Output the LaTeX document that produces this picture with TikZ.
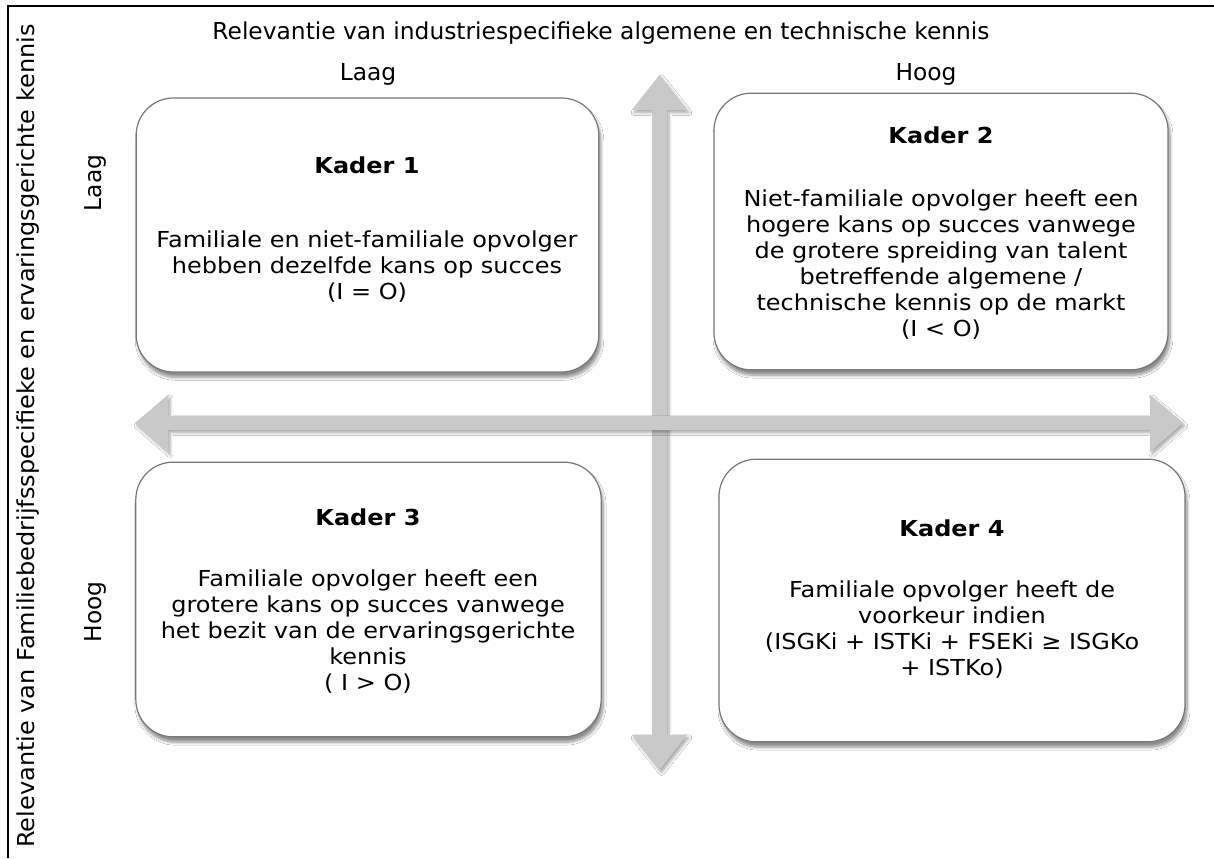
\documentclass[tikz,border=0pt]{standalone}
\usepackage{fontspec}
\setmainfont{DejaVu Sans}
\newfontfamily\boxfont[FakeStretch=1.09]{DejaVu Sans}
\newfontfamily\labfont{DejaVu Sans}
\newfontfamily\ylabfont[FakeStretch=1.03]{DejaVu Sans}
\usetikzlibrary{shadows.blur}
\definecolor{arrowgray}{RGB}{201,201,201}
\definecolor{boxline}{RGB}{120,120,120}
\tikzset{
  kader/.style={draw=boxline, line width=0.9pt, fill=white, rounded corners=28pt,
    blur shadow={shadow xshift=1.5pt, shadow yshift=-4pt, shadow blur steps=8, shadow opacity=45}},
  ktitle/.style={font=\boxfont\bfseries\fontsize{16.5}{19.5}\selectfont, inner sep=0pt},
  kbody/.style={font=\boxfont\fontsize{16.5}{19.5}\selectfont, align=center, inner sep=0pt},
  axlab/.style={font=\labfont\fontsize{17.5}{21}\selectfont, inner sep=0pt},
  yaxlab/.style={font=\ylabfont\fontsize{17.5}{21}\selectfont, inner sep=0pt},
  axarrow/.style={fill=arrowgray, draw=none,
    blur shadow={shadow xshift=1.5pt, shadow yshift=-2pt, shadow blur steps=6, shadow opacity=35}}
}
\begin{document}
\begin{tikzpicture}[x=0.75pt,y=-0.75pt]
\useasboundingbox[fill=white] (0,0) rectangle (1214,858);
% frame
\draw[line width=1.9pt] (7,6) -- (1214,6);
\draw[line width=1pt] (8,6) -- (8,858);
% axes arrows
\fill[axarrow] (659.5,75) -- (687,110) -- (667,110) -- (667,735) -- (687,735) -- (659.5,770)
  -- (632,735) -- (652,735) -- (652,110) -- (632,110) -- cycle;
\fill[axarrow] (135,423) -- (168,395) -- (168,416) -- (1150,416) -- (1150,395) -- (1183,423)
  -- (1150,452) -- (1150,430) -- (168,430) -- (168,452) -- cycle;
% boxes
\node[kader, minimum width=347pt, minimum height=205.5pt] (k1) at (367.5,235) {};
\node[kader, minimum width=340.5pt, minimum height=207.5pt] (k2) at (941,231.5) {};
\node[kader, minimum width=349pt, minimum height=206pt] (k3) at (368.5,599.5) {};
\node[kader, minimum width=349.5pt, minimum height=212pt] (k4) at (952,600.5) {};
% titles and texts
\node[ktitle] (t1) at (367,165) {Kader 1};
\node[kbody] (b1) at (367,267) {Familiale en niet-familiale opvolger\\hebben dezelfde kans op succes\\(I = O)};
\node[ktitle] (t2) at (941,135) {Kader 2};
\node[kbody] (b2) at (941,265) {Niet-familiale opvolger heeft een\\hogere kans op succes vanwege\\de grotere spreiding van talent\\betreffende algemene /\\technische kennis op de markt\\(I < O)};
\node[ktitle] (t3) at (368,517) {Kader 3};
\node[kbody] (b3) at (368,632) {Familiale opvolger heeft een\\grotere kans op succes vanwege\\het bezit van de ervaringsgerichte\\kennis\\( I > O)};
\node[ktitle] (t4) at (952,528) {Kader 4};
\node[kbody] (b4) at (952,630) {Familiale opvolger heeft de\\voorkeur indien\\(ISGKi + ISTKi + FSEKi ≥ ISGKo\\+ ISTKo)};
% axis labels
\node[axlab] (xt) at (601,33) {Relevantie van industriespecifieke algemene en technische kennis};
\node[axlab] (xl) at (368,74) {Laag};
\node[axlab] (xh) at (926,74) {Hoog};
\node[yaxlab, rotate=90] (yt) at (28,436) {Relevantie van Familiebedrijfsspecifieke en ervaringsgerichte kennis};
\node[axlab, rotate=90] (yl) at (95,183) {Laag};
\node[axlab, rotate=90] (yh) at (95,612) {Hoog};
\end{tikzpicture}
\end{document}
